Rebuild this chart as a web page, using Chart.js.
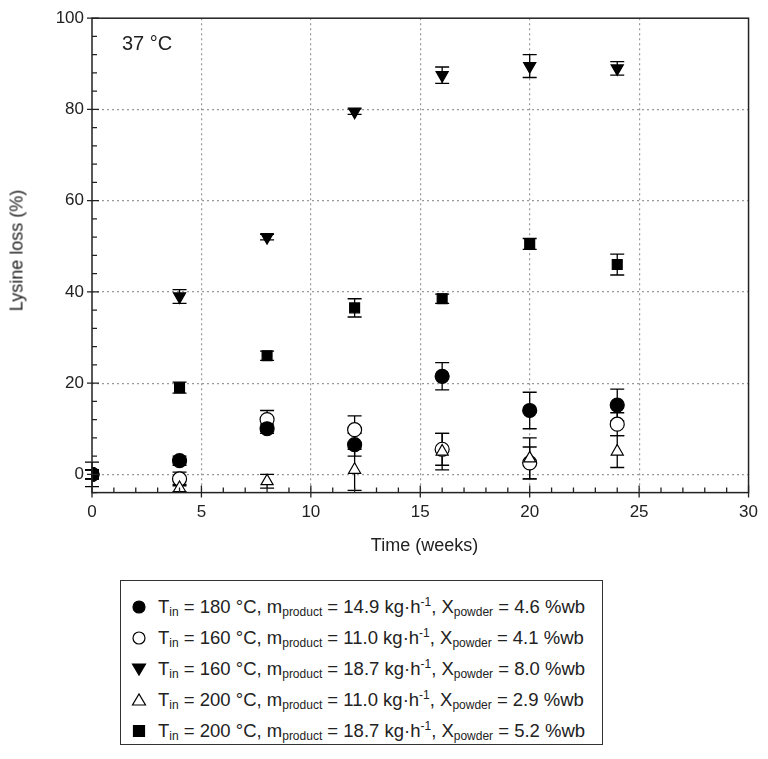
<!DOCTYPE html>
<html><head><meta charset="utf-8">
<script src="https://cdn.jsdelivr.net/npm/chart.js@4"></script>
<style>
body{margin:0;background:#fff;font-family:"Liberation Sans",Arial,sans-serif;}
#wrap{position:absolute;left:0;top:0;width:768px;height:545px;}
#ylab{position:absolute;left:-48px;top:240px;width:130px;text-align:center;transform:rotate(-90deg);font-size:18px;color:#222;}
#xlab{position:absolute;left:92px;width:665px;top:535px;text-align:center;font-size:18px;color:#222;}
#ann{position:absolute;left:122px;top:32px;font-size:20px;color:#222;}
#leg{position:absolute;left:120px;top:580px;width:483px;height:165px;border:1px solid #333;box-sizing:border-box;}
.row{position:absolute;left:0;height:24px;font-size:18.5px;color:#222;white-space:nowrap;}
.row canvas{position:absolute;left:0;top:2px;}
.row span{position:absolute;left:29px;top:0;}
sub{font-size:12px;vertical-align:-3px;}sup{font-size:12px;}
</style></head><body>
<div id="wrap"><canvas id="c" width="768" height="545"></canvas></div>
<div id="ylab">Lysine loss (%)</div>
<div id="xlab">Time (weeks)</div>
<div id="ann">37 °C</div>
<div id="leg"></div>
<script>
const weeks=[0,4,8,12,16,20,24];
const circ180=[0,3,10,6.5,21.5,14,15.2];
const circ180Err=[1,1,1,2.5,3,4,3.5];
const open160=[0,-1,12,9.8,5.5,2.5,11];
const open160Err=[1,1.5,2,3,3.5,3.5,2.5];
const tri160=[0,39,52,79.5,87.5,89.5,89];
const tri160Err=[1,1.5,0.6,0.6,1.8,2.5,1.5];
const otri200=[0,-3,-1.5,1,5,3.5,5];
const otri200Err=[1,0.8,1.5,4.5,4,4.5,3.5];
const sq200=[0,19,26,36.5,38.5,50.5,46];
const sq200Err=[2.7,1.2,1,2,1,1.2,2.3];
const legendLabels=[
 ['T<sub>in</sub> = 180 °C, m<sub>product</sub> = 14.9 kg·h<sup>-1</sup>, X<sub>powder</sub> = 4.6 %wb','circle',true],
 ['T<sub>in</sub> = 160 °C, m<sub>product</sub> = 11.0 kg·h<sup>-1</sup>, X<sub>powder</sub> = 4.1 %wb','circle',false],
 ['T<sub>in</sub> = 160 °C, m<sub>product</sub> = 18.7 kg·h<sup>-1</sup>, X<sub>powder</sub> = 8.0 %wb','down',true],
 ['T<sub>in</sub> = 200 °C, m<sub>product</sub> = 11.0 kg·h<sup>-1</sup>, X<sub>powder</sub> = 2.9 %wb','up',false],
 ['T<sub>in</sub> = 200 °C, m<sub>product</sub> = 18.7 kg·h<sup>-1</sup>, X<sub>powder</sub> = 5.2 %wb','rect',true]];
function pts(v){return weeks.map((w,i)=>({x:w,y:v[i]}));}
function ds(v,e,style,filled,rot,r,order){return {data:pts(v),err:e,pointStyle:style,rotation:rot,pointRadius:r,
 backgroundColor:filled?'#000':'#fff',borderColor:'#000',borderWidth:1.2,showLine:false,order:order};}
const errPlugin={id:'err',beforeDatasetsDraw(ch){const c=ch.ctx,x=ch.scales.x,y=ch.scales.y;c.save();c.strokeStyle='#000';c.lineWidth=1.3;
 ch.data.datasets.forEach(d=>{d.data.forEach((p,i)=>{const e=d.err[i];const px=x.getPixelForValue(p.x);const a=y.getPixelForValue(p.y+e),b=y.getPixelForValue(p.y-e);
 c.beginPath();c.moveTo(px,a);c.lineTo(px,b);c.moveTo(px-7,a);c.lineTo(px+7,a);c.moveTo(px-7,b);c.lineTo(px+7,b);c.stroke();});});c.restore();},
 afterDraw(ch){const c=ch.ctx,x=ch.scales.x,y=ch.scales.y,A=ch.chartArea;c.save();c.strokeStyle='#222';c.lineWidth=1.3;c.beginPath();
 for(let v=0;v<=30;v++){const px=x.getPixelForValue(v);const L=v%5==0?7:5;c.moveTo(px,A.bottom-L);c.lineTo(px,A.bottom+(v%5==0?5:0));}
 for(let v=-4;v<=100;v+=4){const py=y.getPixelForValue(v);const L=v%20==0?7:5;c.moveTo(A.left+L,py);c.lineTo(A.left-(v%20==0?5:0),py);}
 c.stroke();c.lineWidth=1.5;c.strokeRect(A.left,A.top,A.right-A.left,A.bottom-A.top);c.restore();}};
new Chart(document.getElementById('c'),{type:'scatter',
 data:{datasets:[ds(sq200,sq200Err,'rect',true,0,7,1),ds(otri200,otri200Err,'triangle',false,0,7,2),ds(tri160,tri160Err,'triangle',true,180,7,3),ds(open160,open160Err,'circle',false,0,7,4),ds(circ180,circ180Err,'circle',true,0,7,0)]},
 options:{responsive:false,animation:false,layout:{padding:{left:0,right:2,top:15,bottom:12}},
  plugins:{legend:{display:false},tooltip:{enabled:false}},
  scales:{x:{min:0,max:30,ticks:{stepSize:1,autoSkip:false,maxRotation:0,color:'#222',font:{size:17,family:'Liberation Sans'},padding:10,callback:v=>v%5==0?v:''},
    grid:{drawTicks:false,color:c=>c.tick&&c.tick.value%5==0&&c.tick.value>0&&c.tick.value<30?'#999':'rgba(0,0,0,0)',lineWidth:1.2},border:{display:false,dash:[2,3]}},
   y:{min:-4,max:100,afterFit(s){s.width=92;},ticks:{stepSize:4,autoSkip:false,color:'#222',font:{size:17,family:'Liberation Sans'},padding:8,callback:v=>v%20==0?v:''},
    grid:{drawTicks:false,color:c=>c.tick&&c.tick.value%20==0&&c.tick.value<100?'#999':'rgba(0,0,0,0)',lineWidth:1.2},border:{display:false,dash:[2,3]}}}},
 plugins:[errPlugin]});
const leg=document.getElementById('leg');
legendLabels.forEach((l,i)=>{const d=document.createElement('div');d.className='row';d.style.top=(14+i*31)+'px';d.style.left='8px';
 const cv=document.createElement('canvas');cv.width=20;cv.height=20;const g=cv.getContext('2d');g.fillStyle=l[2]?'#000':'#fff';g.strokeStyle='#000';g.lineWidth=1.2;g.beginPath();
 if(l[1]=='circle')g.arc(10,10,6,0,7);else if(l[1]=='rect')g.rect(4.5,4.5,11,11);else if(l[1]=='down'){g.moveTo(3.5,5);g.lineTo(16.5,5);g.lineTo(10,16);g.closePath();}else{g.moveTo(3.5,15);g.lineTo(16.5,15);g.lineTo(10,4);g.closePath();}
 g.fill();g.stroke();d.appendChild(cv);const s=document.createElement('span');s.innerHTML=l[0];d.appendChild(s);leg.appendChild(d);});
</script></body></html>
